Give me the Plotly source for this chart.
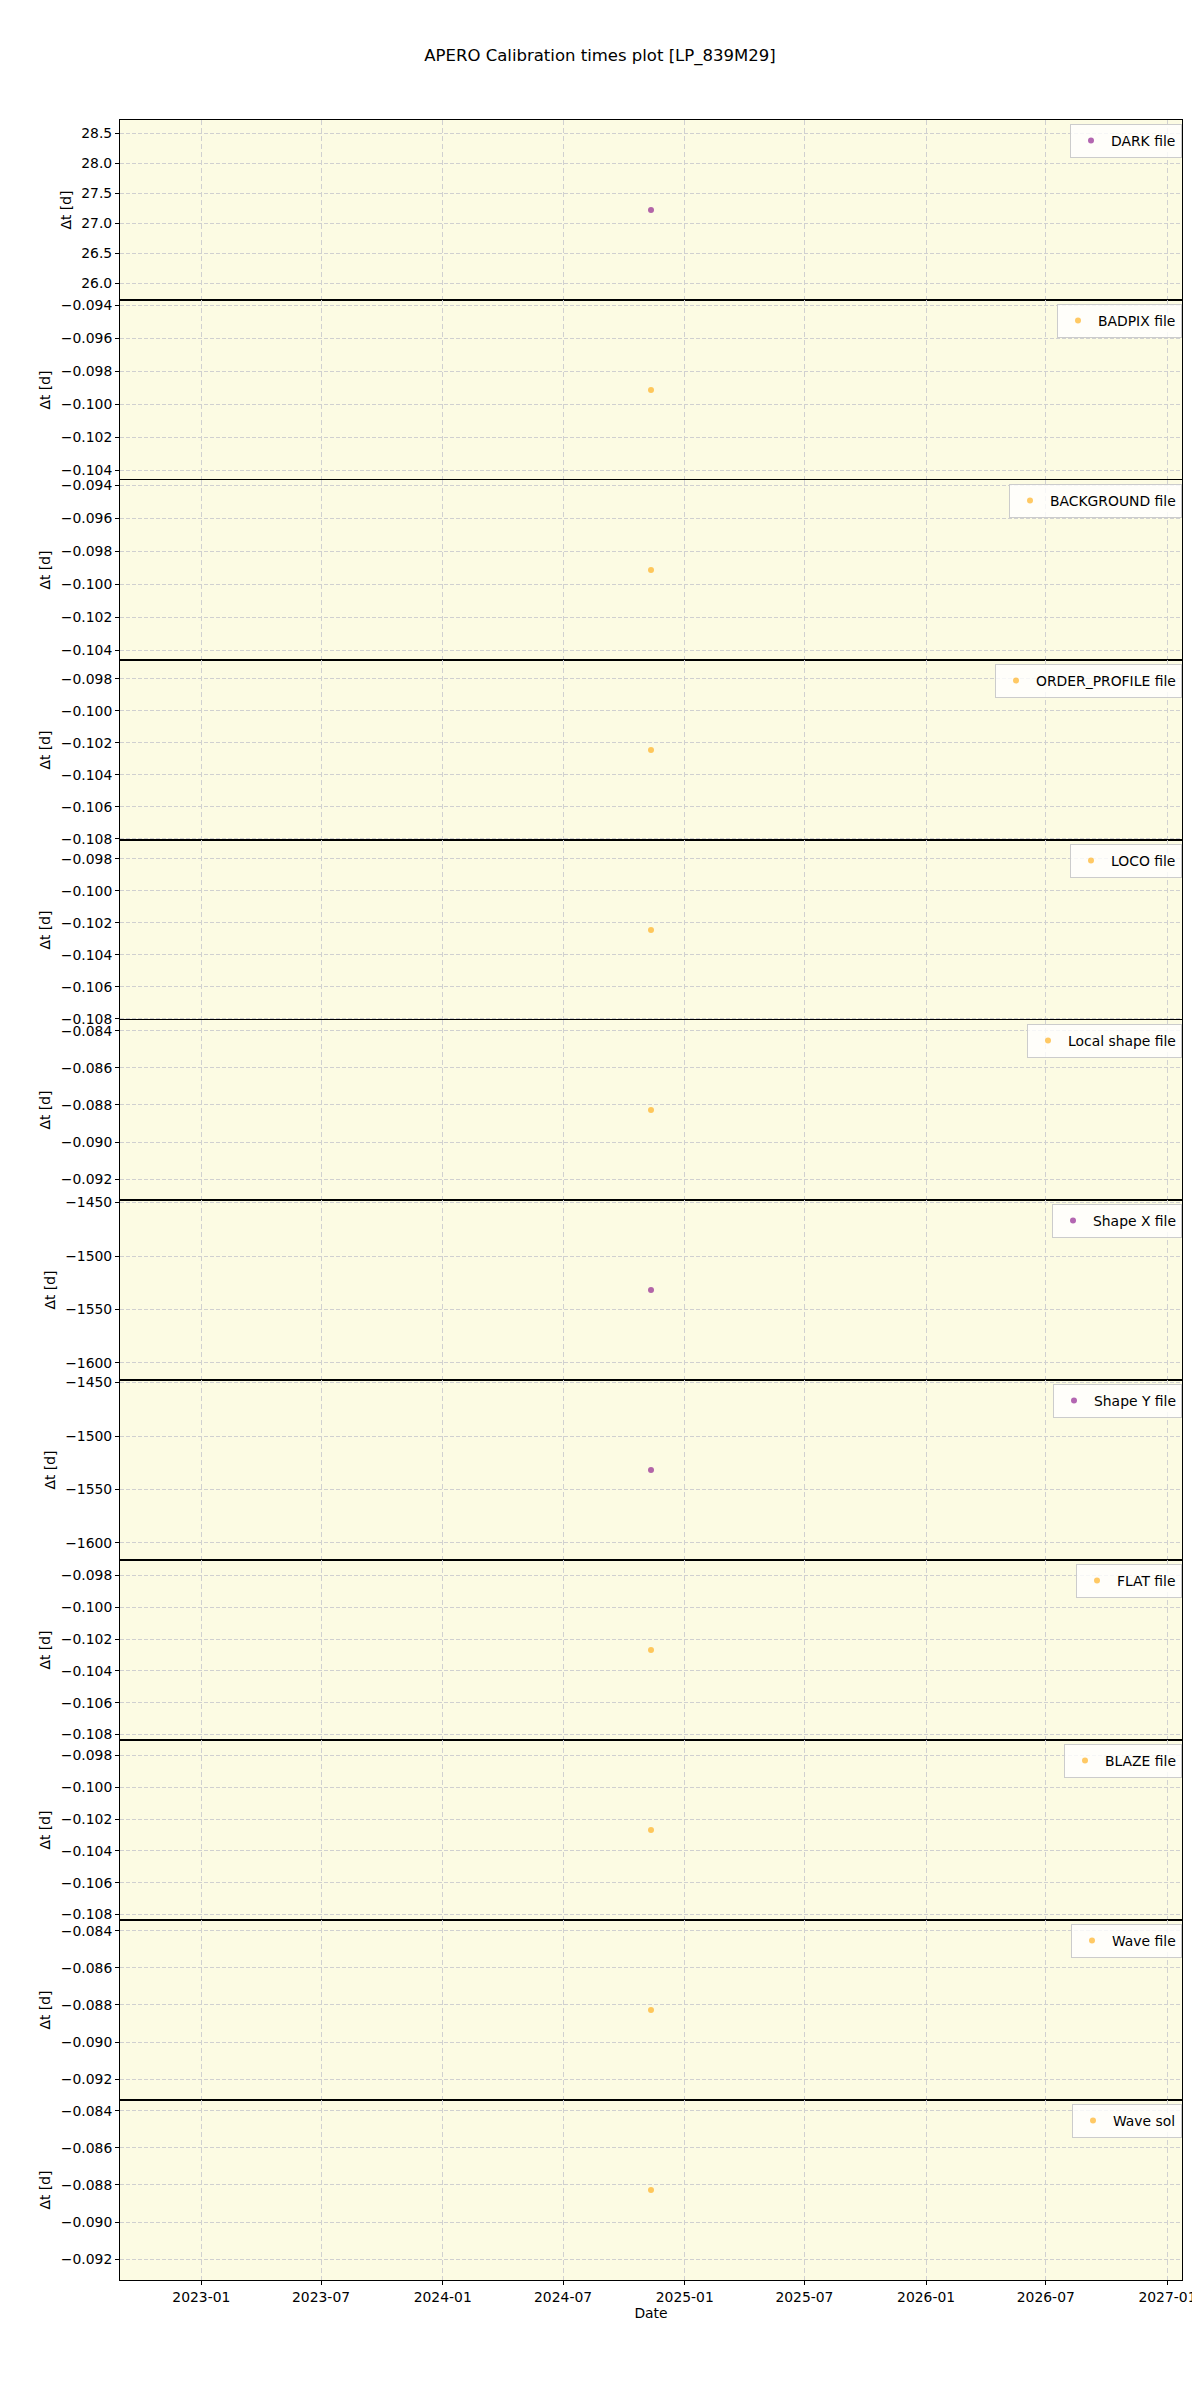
import pandas as pd
import plotly.graph_objects as go
from plotly.subplots import make_subplots

# calibration file labels and their time offsets (days) relative to the observation
labels = ["DARK file", "BADPIX file", "BACKGROUND file", "ORDER_PROFILE file", "LOCO file",
          "Local shape file", "Shape X file", "Shape Y file", "FLAT file", "BLAZE file",
          "Wave file", "Wave sol"]
dt_values = [27.22, -0.09915, -0.09915, -0.10245, -0.10245, -0.08827,
             -1531.8, -1531.8, -0.10269, -0.10269, -0.08827, -0.08827]
obs_dates = ["2024-11-11"] * 12
kinds = ["purple", "orange", "orange", "orange", "orange", "orange",
         "purple", "purple", "orange", "orange", "orange", "orange"]
tick_steps = [0.5, 0.002, 0.002, 0.002, 0.002, 0.002, 50, 50, 0.002, 0.002, 0.002, 0.002]
tick_fmts = [".1f", ".3f", ".3f", ".3f", ".3f", ".3f", "d", "d", ".3f", ".3f", ".3f", ".3f"]

colours = {"purple": "rgba(128,0,128,0.6)", "orange": "rgba(255,165,0,0.6)"}
font = "DejaVu Sans"
n = len(labels)

fig = make_subplots(rows=n, cols=1, shared_xaxes=True, vertical_spacing=0)

for i in range(n):
    fig.add_trace(go.Scatter(x=[obs_dates[i]], y=[dt_values[i]], mode="markers",
                             name=labels[i], showlegend=True,
                             legend="legend" if i == 0 else "legend%d" % (i + 1),
                             marker=dict(size=6, color=colours[kinds[i]])),
                  row=i + 1, col=1)
    v = dt_values[i]
    pad = 0.055 * abs(v)
    fig.update_yaxes(range=[v - pad, v + pad], dtick=tick_steps[i], tick0=0,
                     tickformat=tick_fmts[i], row=i + 1, col=1)
    top = 1 - i / n
    leg = dict(x=1.0, xanchor="right", y=top - 4 / 2160, yanchor="top",
               bgcolor="rgba(255,255,255,0.8)", bordercolor="#cccccc", borderwidth=1,
               font=dict(family=font, size=13.9, color="black"))
    fig.update_layout({"legend" if i == 0 else "legend%d" % (i + 1): leg})

center = pd.Timestamp(obs_dates[0])
xr = [center - pd.Timedelta(days=803), center + pd.Timedelta(days=803)]

fig.update_xaxes(range=xr, tickformat="%Y-%m", dtick="M6", tick0="2023-01-01",
                 showgrid=True, gridcolor="#d0d0d0", griddash="5px,3px", gridwidth=1,
                 showline=True, mirror=True, linecolor="black", linewidth=1,
                 ticks="outside", ticklen=4, tickcolor="black", ticklabeloverflow="allow",
                 tickfont=dict(family=font, size=13.9, color="black"), zeroline=False)
fig.update_xaxes(title=dict(text="Date", font=dict(family=font, size=13.9, color="black"),
                            standoff=4), row=n, col=1)
fig.update_yaxes(showgrid=True, gridcolor="#d0d0d0", griddash="4px,2px", gridwidth=1,
                 showline=True, mirror=True, linecolor="black", linewidth=1,
                 ticks="outside", ticklen=4, tickcolor="black", zeroline=False,
                 tickfont=dict(family=font, size=13.9, color="black"),
                 title=dict(text="Δt [d]", font=dict(family=font, size=13.9, color="black"),
                            standoff=6))

# the page puts the plot 8px in from the top-left corner, so margins absorb that
fig.update_layout(
    width=1200, height=2400,
    margin=dict(l=112, r=20, t=112, b=128),
    paper_bgcolor="white", plot_bgcolor="#fcfbe3",
    title=dict(text="APERO Calibration times plot [LP_839M29]", x=592 / 1200, xanchor="center",
               y=1 - 47 / 2400, yanchor="middle", yref="container",
               font=dict(family=font, size=16.5, color="black")),
    font=dict(family=font, color="black"),
)

fig.write_html("out.html")
